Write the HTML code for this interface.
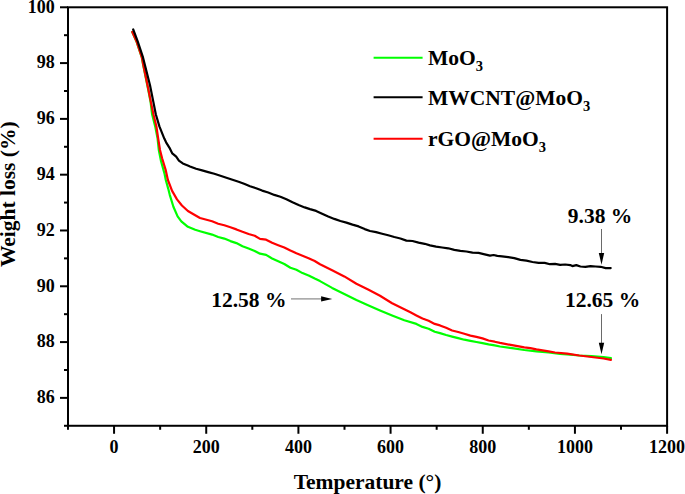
<!DOCTYPE html>
<html><head><meta charset="utf-8"><style>
html,body{margin:0;padding:0;background:#fff;}
body{width:685px;height:494px;overflow:hidden;}
svg{display:block;}
text{font-family:"Liberation Serif",serif;font-weight:bold;fill:#000;}
.t{font-size:18px;}
.a{font-size:21.5px;}
.s{font-size:14.5px;}
</style></head><body>
<svg width="685" height="494" viewBox="0 0 685 494">
<rect x="68.0" y="7.29" width="599.10" height="418.48" fill="none" stroke="#000" stroke-width="2"/>
<line x1="64.00" y1="425.78" x2="68.0" y2="425.78" stroke="#000" stroke-width="2"/>
<line x1="60.00" y1="397.88" x2="68.0" y2="397.88" stroke="#000" stroke-width="2"/>
<text x="54.8" y="403.28" text-anchor="end" class="t">86</text>
<line x1="64.00" y1="369.98" x2="68.0" y2="369.98" stroke="#000" stroke-width="2"/>
<line x1="60.00" y1="342.08" x2="68.0" y2="342.08" stroke="#000" stroke-width="2"/>
<text x="54.8" y="347.48" text-anchor="end" class="t">88</text>
<line x1="64.00" y1="314.18" x2="68.0" y2="314.18" stroke="#000" stroke-width="2"/>
<line x1="60.00" y1="286.28" x2="68.0" y2="286.28" stroke="#000" stroke-width="2"/>
<text x="54.8" y="291.68" text-anchor="end" class="t">90</text>
<line x1="64.00" y1="258.38" x2="68.0" y2="258.38" stroke="#000" stroke-width="2"/>
<line x1="60.00" y1="230.48" x2="68.0" y2="230.48" stroke="#000" stroke-width="2"/>
<text x="54.8" y="235.88" text-anchor="end" class="t">92</text>
<line x1="64.00" y1="202.58" x2="68.0" y2="202.58" stroke="#000" stroke-width="2"/>
<line x1="60.00" y1="174.68" x2="68.0" y2="174.68" stroke="#000" stroke-width="2"/>
<text x="54.8" y="180.08" text-anchor="end" class="t">94</text>
<line x1="64.00" y1="146.78" x2="68.0" y2="146.78" stroke="#000" stroke-width="2"/>
<line x1="60.00" y1="118.89" x2="68.0" y2="118.89" stroke="#000" stroke-width="2"/>
<text x="54.8" y="124.29" text-anchor="end" class="t">96</text>
<line x1="64.00" y1="90.99" x2="68.0" y2="90.99" stroke="#000" stroke-width="2"/>
<line x1="60.00" y1="63.09" x2="68.0" y2="63.09" stroke="#000" stroke-width="2"/>
<text x="54.8" y="68.49" text-anchor="end" class="t">98</text>
<line x1="64.00" y1="35.19" x2="68.0" y2="35.19" stroke="#000" stroke-width="2"/>
<line x1="60.00" y1="7.29" x2="68.0" y2="7.29" stroke="#000" stroke-width="2"/>
<text x="54.8" y="12.69" text-anchor="end" class="t">100</text>
<line x1="67.97" y1="425.77" x2="67.97" y2="429.77" stroke="#000" stroke-width="2"/>
<line x1="114.06" y1="425.77" x2="114.06" y2="433.77" stroke="#000" stroke-width="2"/>
<text x="114.06" y="452.7" text-anchor="middle" class="t">0</text>
<line x1="160.15" y1="425.77" x2="160.15" y2="429.77" stroke="#000" stroke-width="2"/>
<line x1="206.23" y1="425.77" x2="206.23" y2="433.77" stroke="#000" stroke-width="2"/>
<text x="206.23" y="452.7" text-anchor="middle" class="t">200</text>
<line x1="252.32" y1="425.77" x2="252.32" y2="429.77" stroke="#000" stroke-width="2"/>
<line x1="298.41" y1="425.77" x2="298.41" y2="433.77" stroke="#000" stroke-width="2"/>
<text x="298.41" y="452.7" text-anchor="middle" class="t">400</text>
<line x1="344.50" y1="425.77" x2="344.50" y2="429.77" stroke="#000" stroke-width="2"/>
<line x1="390.58" y1="425.77" x2="390.58" y2="433.77" stroke="#000" stroke-width="2"/>
<text x="390.58" y="452.7" text-anchor="middle" class="t">600</text>
<line x1="436.67" y1="425.77" x2="436.67" y2="429.77" stroke="#000" stroke-width="2"/>
<line x1="482.76" y1="425.77" x2="482.76" y2="433.77" stroke="#000" stroke-width="2"/>
<text x="482.76" y="452.7" text-anchor="middle" class="t">800</text>
<line x1="528.84" y1="425.77" x2="528.84" y2="429.77" stroke="#000" stroke-width="2"/>
<line x1="574.93" y1="425.77" x2="574.93" y2="433.77" stroke="#000" stroke-width="2"/>
<text x="574.93" y="452.7" text-anchor="middle" class="t">1000</text>
<line x1="621.02" y1="425.77" x2="621.02" y2="429.77" stroke="#000" stroke-width="2"/>
<line x1="667.10" y1="425.77" x2="667.10" y2="433.77" stroke="#000" stroke-width="2"/>
<text x="667.10" y="452.7" text-anchor="middle" class="t">1200</text>
<polyline points="132.2,31.9 136.4,41.2 141.8,57.4 143.2,65.0 148.3,90.0 150.6,102.1 152.1,114.3 155.2,126.4 157.6,138.6 158.8,150.0 160.9,160.6 164.6,174.0 165.8,180.0 168.2,188.6 169.7,194.6 173.4,206.7 177.6,216.4 181.3,221.3 187.9,226.8 195.2,229.8 200.0,231.2 212.1,234.6 218.2,237.0 224.3,238.6 230.4,241.1 236.4,243.1 242.5,246.2 248.6,248.6 254.7,251.0 260.0,253.7 266.1,254.9 272.1,258.5 278.2,261.3 284.3,264.0 290.4,267.7 296.4,269.8 302.5,273.1 308.6,275.5 314.7,278.6 320.0,281.1 332.1,287.9 344.3,294.0 356.4,300.1 368.6,305.5 380.0,310.4 392.1,315.4 404.3,320.2 416.4,323.9 422.5,326.9 428.6,328.7 434.7,331.8 440.0,333.1 446.1,335.0 452.1,336.6 458.2,338.1 464.3,339.7 470.4,340.9 476.4,342.0 482.5,343.2 488.6,344.4 494.7,345.4 500.0,346.5 512.1,348.2 524.3,350.0 536.4,351.3 548.6,352.5 560.0,353.9 567.1,354.3 579.3,355.5 591.4,356.1 603.6,357.0 610.9,358.2" fill="none" stroke="#00ff00" stroke-width="2.2" stroke-linejoin="round" stroke-linecap="round"/>
<polyline points="132.2,31.9 136.5,41.2 141.9,57.4 143.3,65.0 148.5,90.0 150.9,102.1 153.4,114.3 156.4,126.4 158.2,138.6 160.0,150.0 162.1,158.2 165.8,170.4 167.9,180.0 172.1,190.9 177.0,199.4 181.9,205.5 187.9,211.0 195.2,215.2 200.0,218.0 212.1,221.3 218.2,223.7 224.3,225.3 230.4,227.3 236.4,229.4 242.5,231.8 248.6,234.0 254.7,235.8 260.0,238.9 266.1,239.7 272.1,242.8 278.2,245.2 284.3,247.6 290.4,250.6 296.4,253.3 302.5,255.7 308.6,258.2 314.7,261.0 320.0,264.3 332.1,270.3 344.3,276.4 356.4,283.7 368.6,289.8 380.0,295.8 392.1,303.2 404.3,309.3 410.4,312.3 416.4,315.4 422.5,318.4 428.6,320.8 434.7,323.9 440.0,325.4 446.1,327.8 452.1,330.5 458.2,332.0 464.3,333.8 470.4,335.6 476.4,336.9 482.5,338.4 488.6,340.5 494.7,341.7 500.0,342.9 512.1,345.2 524.3,347.4 530.4,348.2 536.4,349.4 548.6,351.3 555.0,352.5 567.1,353.7 579.3,355.5 591.4,357.0 603.6,358.5 610.9,359.8" fill="none" stroke="#ff0000" stroke-width="2.2" stroke-linejoin="round" stroke-linecap="round"/>
<polyline points="133.2,29.5 137.6,41.2 143.0,57.4 144.9,65.0 150.0,85.2 153.4,102.1 155.8,114.3 159.4,126.4 164.3,138.6 166.1,142.3 169.5,147.8 172.3,153.4 176.2,156.7 178.9,160.6 182.8,163.4 188.4,165.7 190.0,166.4 196.1,168.8 202.1,170.4 208.2,172.1 214.3,173.7 220.4,175.7 226.4,177.7 232.5,179.8 238.6,181.8 244.7,184.0 250.0,186.3 256.1,188.2 262.1,190.6 268.2,192.5 274.3,194.9 280.4,196.7 286.4,199.2 292.5,202.2 298.6,205.0 304.7,207.4 310.0,209.1 316.1,210.9 322.1,213.7 328.2,216.5 334.3,218.9 340.4,221.0 346.4,222.6 352.5,224.6 358.6,226.4 364.7,229.1 370.0,231.0 376.1,232.1 382.1,233.7 388.2,235.3 394.3,237.0 400.4,238.5 406.4,240.6 412.5,241.0 418.6,242.6 424.7,243.8 430.0,245.4 436.1,246.6 442.1,247.5 448.2,248.3 454.3,249.9 460.4,250.8 466.4,251.5 472.5,252.7 478.6,252.9 484.7,254.4 490.0,255.6 493.6,255.0 497.3,255.9 502.1,256.3 508.2,257.1 514.3,258.1 520.4,259.9 526.4,260.7 532.5,262.0 538.6,262.9 544.7,262.9 550.0,264.2 555.1,263.8 560.1,264.8 565.2,264.5 570.2,265.1 572.3,266.1 576.3,265.1 580.4,266.5 585.4,266.8 590.5,266.1 595.6,266.5 600.6,266.8 605.7,268.1 610.7,268.1" fill="none" stroke="#000" stroke-width="2.2" stroke-linejoin="round" stroke-linecap="round"/>
<line x1="373.6" y1="57.8" x2="422.6" y2="57.8" stroke="#00ff00" stroke-width="2"/>
<text x="428" y="65.0" class="a">MoO<tspan class="s" dy="5.8">3</tspan></text>
<line x1="373.6" y1="97.2" x2="422.6" y2="97.2" stroke="#000" stroke-width="2"/>
<text x="428" y="104.9" class="a">MWCNT@MoO<tspan class="s" dy="5.8">3</tspan></text>
<line x1="373.6" y1="138.7" x2="422.6" y2="138.7" stroke="#ff0000" stroke-width="2"/>
<text x="428" y="146.4" class="a">rGO@MoO<tspan class="s" dy="5.8">3</tspan></text>
<text x="600" y="223.4" text-anchor="middle" class="a">9.38 %</text>
<text x="602.5" y="306.8" text-anchor="middle" class="a">12.65 %</text>
<text x="248.8" y="307" text-anchor="middle" class="a">12.58 %</text>
<line x1="601.5" y1="229" x2="601.5" y2="254" stroke="#6a6a6a" stroke-width="1"/>
<path d="M598.8,252.9 L604.2,252.9 L601.5,264.8 Z" fill="#000"/>
<line x1="601.5" y1="314.1" x2="601.5" y2="343.5" stroke="#6a6a6a" stroke-width="1"/>
<path d="M598.8,342.7 L604.2,342.7 L601.5,354.2 Z" fill="#000"/>
<line x1="291" y1="298.9" x2="322" y2="298.9" stroke="#888" stroke-width="1.2"/>
<path d="M321.1,296.2 L321.1,301.6 L332.3,298.9 Z" fill="#000"/>
<text x="367.5" y="489" text-anchor="middle" class="a">Temperature (°)</text>
<text transform="translate(15.2,194.2) rotate(-90)" x="0" y="0" text-anchor="middle" class="a">Weight loss (%)</text>
</svg>
</body></html>
